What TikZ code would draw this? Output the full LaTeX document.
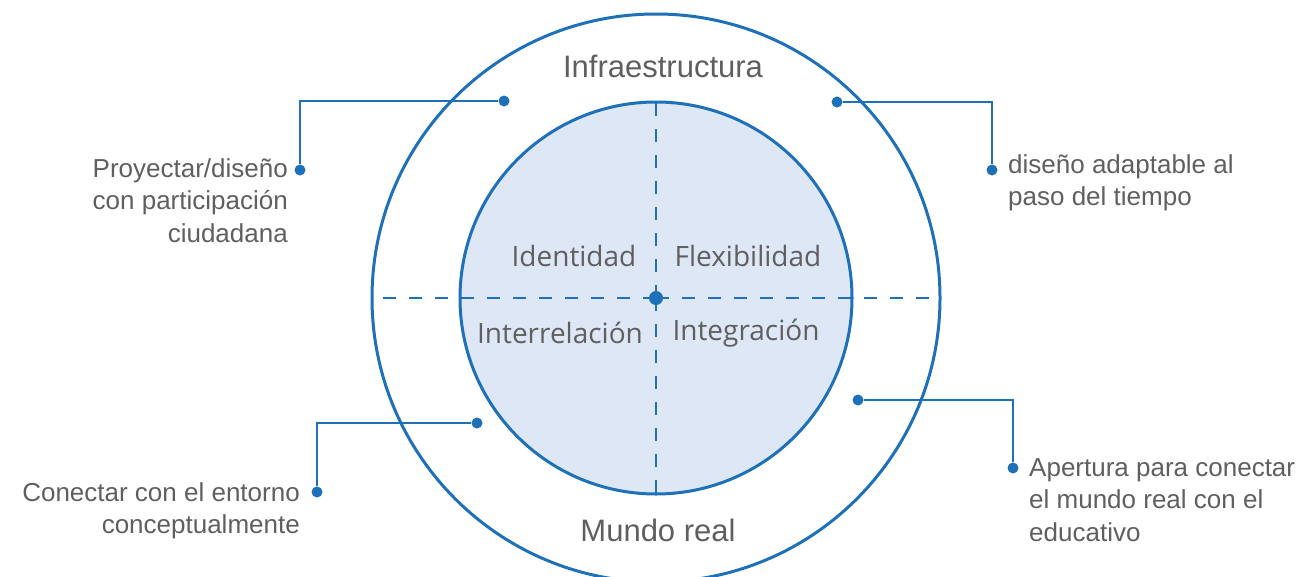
\documentclass[tikz,border=0pt]{standalone}
\usepackage{fontspec}
\setmainfont{Liberation Sans}
\newfontfamily\corefont{Open Sans}
\definecolor{ringblue}{RGB}{30,112,184}
\definecolor{corefill}{RGB}{221,231,246}
\definecolor{txtgray}{RGB}{95,95,95}
\tikzset{
  ring/.style={draw=ringblue, line width=3pt, circle, inner sep=0pt},
  axis/.style={draw=ringblue, line width=2.8pt, dash pattern=on 13pt off 13pt},
  dot/.style={circle, fill=ringblue, inner sep=0pt, minimum size=11pt},
  conn/.style={draw=ringblue, line width=1.5pt},
  lbl/.style={text=txtgray, font=\fontsize{26}{32.5}\selectfont, inner sep=0pt},
  ttl/.style={text=txtgray, font=\fontsize{31}{36}\selectfont, inner sep=0pt, anchor=base},
  quad/.style={text=txtgray, font=\corefont\fontsize{28}{32}\selectfont, inner sep=0pt, anchor=base}
}
\begin{document}
\begin{tikzpicture}[x=1pt, y=-1pt]
  \useasboundingbox (0,0) rectangle (1300,576);
  \coordinate (c) at (656,298);
  % circles
  \node [ring, minimum size=568pt] (outer) at (c) {};
  \node [ring, fill=corefill, minimum size=392pt] (inner) at (c) {};
  \draw [axis] (c) -- (outer.west);
  \draw [axis] (c) -- (outer.east);
  \draw [axis] (c) -- (inner.north);
  \draw [axis] (c) -- (inner.south);
  \node [dot, minimum size=14pt] (mid) at (c) {};
  % ring and quadrant labels
  \node [ttl] (infra) at (663,77) {Infraestructura};
  \node [ttl] (mundo) at (658,541) {Mundo real};
  \node [quad] (ident) at (574,266) {Identidad};
  \node [quad] (flex) at (748,266) {Flexibilidad};
  \node [quad] (inter) at (560,343) {Interrelación};
  \node [quad] (integ) at (746,340) {Integración};
  % callouts
  \node [dot] (p1) at (504,101) {};
  \node [dot] (p2) at (837,102) {};
  \node [dot] (p3) at (477,423) {};
  \node [dot] (p4) at (858,400) {};
  \node [dot] (d1) at (300,170) {};
  \node [dot] (d2) at (992,170) {};
  \node [dot] (d3) at (317,492) {};
  \node [dot] (d4) at (1013,468) {};
  \node [lbl, align=right, anchor=north east] (t1) at (288,158)
    {Proyectar/diseño\\con participación\\ciudadana};
  \node [lbl, align=left, anchor=north west] (t2) at (1008,154)
    {diseño adaptable al\\paso del tiempo};
  \node [lbl, align=right, anchor=north east] (t3) at (300,482)
    {Conectar con el entorno\\conceptualmente};
  \node [lbl, align=left, anchor=north west] (t4) at (1029,458)
    {Apertura para conectar\\el mundo real con el\\educativo};
  \draw [conn] (p1) -| (d1);
  \draw [conn] (p2) -| (d2);
  \draw [conn] (p3) -| (d3);
  \draw [conn] (p4) -| (d4);
\end{tikzpicture}
\end{document}
